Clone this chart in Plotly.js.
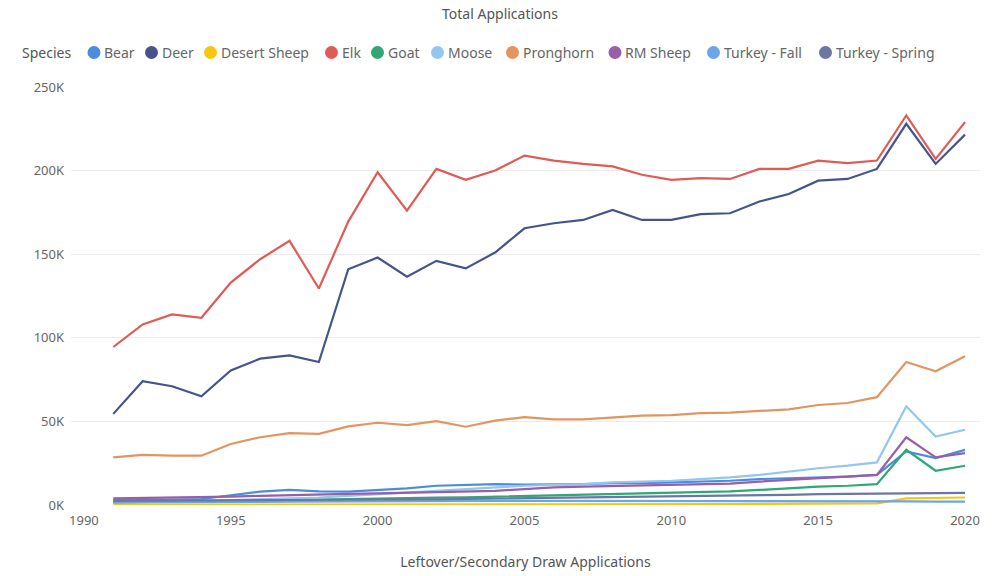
<!DOCTYPE html>
<html>
<head>
<meta charset="utf-8">
<script src="https://cdn.plot.ly/plotly-3.0.1.min.js"></script>
<style>html,body{margin:0;padding:0;background:#fff;}#chart{width:1000px;height:576px;}</style>
</head>
<body>
<div id="chart"></div>
<script>
var years = [1991,1992,1993,1994,1995,1996,1997,1998,1999,2000,2001,2002,2003,2004,2005,2006,2007,2008,2009,2010,2011,2012,2013,2014,2015,2016,2017,2018,2019,2020];

var bear = [3000,3000,3200,3600,6000,8000,9000,8200,8000,9000,10000,11500,12000,12500,12200,12200,12500,13000,13000,13500,14000,14500,15500,16000,16500,17000,18000,32000,28000,33000];
var deer = [54500,74000,71000,65000,80500,87500,89500,85500,141000,148000,136500,146000,141500,151000,165500,168500,170500,176500,170500,170500,174000,174500,181500,186000,194000,195000,201000,228000,204000,221500];
var desertSheep = [200,200,200,200,250,250,300,300,300,350,350,400,400,450,500,500,500,550,550,600,600,600,650,650,700,700,1000,4000,4200,4500];
var elk = [94500,108000,114000,112000,133000,147000,158000,129500,169500,199000,176000,201000,194500,200000,209000,206000,204000,202500,197500,194500,195500,195000,201000,201000,206000,204500,206000,233000,207000,229000];
var goat = [1500,1700,2000,2200,2500,2800,3000,3300,3600,4000,4200,4400,4600,5000,5500,5800,6200,6500,7000,7500,7800,8200,9000,10000,11000,11500,12500,33000,20500,23500];
var moose = [2000,2000,2500,2500,3000,3500,4000,4500,5500,6500,7500,8500,9500,10500,11500,12000,12500,13500,14000,14500,15500,16500,18000,20000,22000,23500,25500,59000,41000,45000];
var pronghorn = [28500,30000,29500,29500,36500,40500,43000,42500,47000,49200,47800,50200,46800,50500,52500,51200,51200,52500,53500,53800,55000,55300,56300,57200,59800,61000,64500,85500,80000,89000];
var rmSheep = [4000,4200,4500,4800,5000,5500,6000,6300,6600,7000,7300,7600,8000,8500,9500,10500,11000,11300,11600,12000,12300,12800,14000,15000,16000,17000,18000,40500,28500,31000];
var turkeyFall = [1500,1500,1600,1700,1800,1900,2000,2000,2100,2200,2300,2300,2400,2400,2500,2500,2500,2500,2500,2500,2400,2400,2400,2400,2400,2400,2300,2200,2000,2000];
var turkeySpring = [2500,2500,2600,2700,2800,2900,3000,3000,3000,3000,3200,3400,3600,3800,4000,4200,4400,4600,4800,5000,5200,5500,5800,6100,6500,6700,6900,7000,7100,7300];

var seriesNames = ['Bear','Deer','Desert Sheep','Elk','Goat','Moose','Pronghorn','RM Sheep','Turkey - Fall','Turkey - Spring'];
var seriesData = [bear,deer,desertSheep,elk,goat,moose,pronghorn,rmSheep,turkeyFall,turkeySpring];
var seriesColors = ['#4a8ddc','#46548a','#f5c710','#df5b56','#2fa777','#93c6f0','#e39560','#9a5ea8','#6aa6e8','#6b77a3'];

var yTickVals = [0,50000,100000,150000,200000,250000];
var yTickText = ['0K','50K','100K','150K','200K','250K'];
var xTickVals = [1990,1995,2000,2005,2010,2015,2020];

// legend layout (pixel positions of each legend marker centre)
var legendTitle = 'Species';
var legendMarkerX = [94, 151.5, 210.5, 331.5, 377.5, 437.5, 512.5, 615, 713.5, 825.5];
var legendY = 52.5;

var ML = 71, MR = 20, MT = 87, MB = 71, W = 1000, H = 576;
var PW = W - ML - MR, PH = H - MT - MB;
function px2x(px) { return (px - ML) / PW; }
function py2y(py) { return (H - MB - py) / PH; }

var traces = [];
for (var i = 0; i < seriesNames.length; i++) {
  traces.push({
    x: years, y: seriesData[i], type: 'scatter', mode: 'lines',
    name: seriesNames[i], showlegend: false,
    line: {color: seriesColors[i], width: 2.2}
  });
}

var fontFam = '"Segoe UI", "Noto Sans", "Open Sans", sans-serif';
var shapes = [], annotations = [];
annotations.push({
  text: legendTitle, xref: 'paper', yref: 'paper', x: px2x(20), y: py2y(legendY),
  xanchor: 'left', yanchor: 'middle', showarrow: false,
  font: {family: fontFam, size: 14, color: '#555555'}
});
var r = 6.5;
for (var k = 0; k < seriesNames.length; k++) {
  var cx = legendMarkerX[k];
  shapes.push({
    type: 'circle', xref: 'paper', yref: 'paper',
    x0: px2x(cx - r), x1: px2x(cx + r), y0: py2y(legendY + r), y1: py2y(legendY - r),
    fillcolor: seriesColors[k], line: {width: 0}
  });
  annotations.push({
    text: seriesNames[k], xref: 'paper', yref: 'paper', x: px2x(cx + 8), y: py2y(legendY),
    xanchor: 'left', yanchor: 'middle', showarrow: false,
    font: {family: fontFam, size: 14, color: '#666666'}
  });
}

var layout = {
  width: W, height: H,
  margin: {l: ML, r: MR, t: MT, b: MB},
  paper_bgcolor: '#ffffff', plot_bgcolor: '#ffffff',
  font: {family: fontFam, size: 12, color: '#666666'},
  title: {text: 'Total Applications', x: 0.5, xanchor: 'center', y: 0.975, yanchor: 'middle',
          font: {family: fontFam, size: 14, color: '#555555'}},
  showlegend: false,
  shapes: shapes,
  annotations: annotations,
  xaxis: {
    range: [1989.56, 2020.51], tickvals: xTickVals, showgrid: false, zeroline: false,
    showline: false, ticks: '', tickfont: {family: fontFam, size: 13, color: '#666666'},
    ticklabelstandoff: 6,
    title: {text: 'Leftover/Secondary Draw Applications', standoff: 29,
            font: {family: fontFam, size: 14, color: '#555555'}}
  },
  yaxis: {
    range: [0, 250000], tickvals: yTickVals, ticktext: yTickText, showgrid: true,
    gridcolor: '#ebebeb', gridwidth: 1, zeroline: false, showline: false, ticks: '',
    tickfont: {family: fontFam, size: 13, color: '#666666'}, ticklabelstandoff: 6
  }
};

Plotly.newPlot('chart', traces, layout, {displayModeBar: false, staticPlot: true});
</script>
</body>
</html>
